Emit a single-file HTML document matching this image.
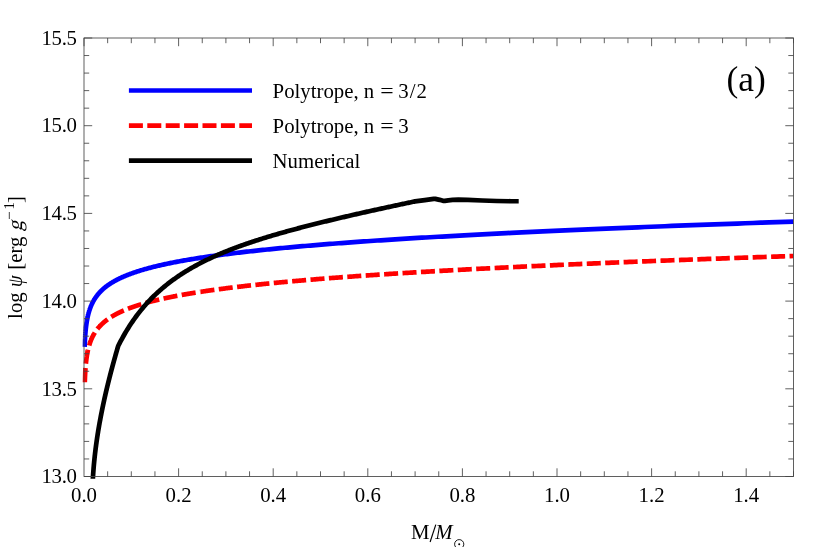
<!DOCTYPE html>
<html><head><meta charset="utf-8"><title>plot</title>
<style>
html,body{margin:0;padding:0;background:#fff;}
body{width:830px;height:547px;overflow:hidden;}
svg{display:block;will-change:transform;}
text{font-family:"Liberation Serif",serif;font-size:20.8px;fill:#000;}
</style></head>
<body>
<svg width="830" height="547" viewBox="0 0 830 547">
<rect width="830" height="547" fill="#fff"/>
<defs><clipPath id="c"><rect x="82.5" y="38.0" width="711.0" height="440.8"/></clipPath></defs>
<g clip-path="url(#c)" fill="none" stroke-width="4.7">
<path d="M84.79 382.13 L84.79 382.05 L84.79 381.97 L84.80 381.89 L84.80 381.81 L84.80 381.73 L84.80 381.65 L84.81 381.57 L84.81 381.49 L84.81 381.41 L84.82 381.34 L84.82 381.26 L84.82 381.18 L84.82 381.10 L84.83 381.02 L84.83 380.94 L84.83 380.86 L84.83 380.78 L84.84 380.70 L84.84 380.62 L84.84 380.54 L84.85 380.46 L84.85 380.38 L84.85 380.30 L84.85 380.22 L84.86 380.14 L84.86 380.06 L84.86 379.98 L84.87 379.90 L84.87 379.82 L84.87 379.74 L84.88 379.67 L84.88 379.59 L84.88 379.51 L84.88 379.43 L84.89 379.35 L84.89 379.27 L84.89 379.19 L84.90 379.11 L84.90 379.03 L84.90 378.95 L84.91 378.87 L84.91 378.79 L84.91 378.71 L84.92 378.63 L84.92 378.55 L84.92 378.47 L84.93 378.39 L84.93 378.31 L84.93 378.23 L84.94 378.15 L84.94 378.07 L84.94 378.00 L84.95 377.92 L84.95 377.84 L84.95 377.76 L84.96 377.68 L84.96 377.60 L84.96 377.52 L84.97 377.44 L84.97 377.36 L84.97 377.28 L84.98 377.20 L84.98 377.12 L84.98 377.04 L84.99 376.96 L84.99 376.88 L84.99 376.80 L85.00 376.72 L85.00 376.64 L85.00 376.56 L85.01 376.48 L85.01 376.40 L85.02 376.33 L85.02 376.25 L85.02 376.17 L85.03 376.09 L85.03 376.01 L85.03 375.93 L85.04 375.85 L85.04 375.77 L85.04 375.69 L85.05 375.61 L85.05 375.53 L85.06 375.45 L85.06 375.37 L85.06 375.29 L85.07 375.21 L85.07 375.13 L85.08 375.05 L85.08 374.97 L85.08 374.89 L85.09 374.81 L85.09 374.73 L85.10 374.66 L85.10 374.58 L85.10 374.50 L85.11 374.42 L85.11 374.34 L85.12 374.26 L85.12 374.18 L85.12 374.10 L85.13 374.02 L85.13 373.94 L85.14 373.86 L85.14 373.78 L85.15 373.70 L85.15 373.62 L85.15 373.54 L85.16 373.46 L85.16 373.38 L85.17 373.30 L85.17 373.22 L85.18 373.14 L85.18 373.06 L85.19 372.98 L85.19 372.91 L85.19 372.83 L85.20 372.75 L85.20 372.67 L85.21 372.59 L85.21 372.51 L85.22 372.43 L85.22 372.35 L85.23 372.27 L85.23 372.19 L85.24 372.11 L85.24 372.03 L85.25 371.95 L85.25 371.87 L85.26 371.79 L85.26 371.71 L85.26 371.63 L85.27 371.55 L85.27 371.47 L85.28 371.39 L85.28 371.31 L85.29 371.24 L85.29 371.16 L85.30 371.08 L85.30 371.00 L85.31 370.92 L85.31 370.84 L85.32 370.76 L85.32 370.68 L85.33 370.60 L85.34 370.52 L85.34 370.44 L85.35 370.36 L85.35 370.28 L85.36 370.20 L85.36 370.12 L85.37 370.04 L85.37 369.96 L85.38 369.88 L85.38 369.80 L85.39 369.72 L85.39 369.64 L85.40 369.56 L85.41 369.49 L85.41 369.41 L85.42 369.33 L85.42 369.25 L85.43 369.17 L85.43 369.09 L85.44 369.01 L85.44 368.93 L85.45 368.85 L85.46 368.77 L85.46 368.69 L85.47 368.61 L85.47 368.53 L85.48 368.45 L85.49 368.37 L85.49 368.29 L85.50 368.21 L85.50 368.13 L85.51 368.05 L85.52 367.97 L85.52 367.89 L85.53 367.81 L85.53 367.74 L85.54 367.66 L85.55 367.58 L85.55 367.50 L85.56 367.42 L85.56 367.34 L85.57 367.26 L85.58 367.18 L85.58 367.10 L85.59 367.02 L85.60 366.94 L85.60 366.86 L85.61 366.78 L85.62 366.70 L85.62 366.62 L85.63 366.54 L85.64 366.46 L85.64 366.38 L85.65 366.30 L85.66 366.22 L85.66 366.14 L85.67 366.06 L85.68 365.98 L85.68 365.91 L85.69 365.83 L85.70 365.75 L85.70 365.67 L85.71 365.59 L85.72 365.51 L85.72 365.43 L85.73 365.35 L85.74 365.27 L85.75 365.19 L85.75 365.11 L85.76 365.03 L85.77 364.95 L85.78 364.87 L85.78 364.79 L85.79 364.71 L85.80 364.63 L85.80 364.55 L85.81 364.47 L85.82 364.39 L85.83 364.31 L85.83 364.23 L85.84 364.15 L85.85 364.08 L85.86 364.00 L85.87 363.92 L85.87 363.84 L85.88 363.76 L85.89 363.68 L85.90 363.60 L85.90 363.52 L85.91 363.44 L85.92 363.36 L85.93 363.28 L85.94 363.20 L85.94 363.12 L85.95 363.04 L85.96 362.96 L85.97 362.88 L85.98 362.80 L85.99 362.72 L85.99 362.64 L86.00 362.56 L86.01 362.48 L86.02 362.40 L86.03 362.32 L86.04 362.25 L86.04 362.17 L86.05 362.09 L86.06 362.01 L86.07 361.93 L86.08 361.85 L86.09 361.77 L86.10 361.69 L86.11 361.61 L86.12 361.53 L86.12 361.45 L86.13 361.37 L86.14 361.29 L86.15 361.21 L86.16 361.13 L86.17 361.05 L86.18 360.97 L86.19 360.89 L86.20 360.81 L86.21 360.73 L86.22 360.65 L86.23 360.57 L86.23 360.49 L86.24 360.41 L86.25 360.34 L86.26 360.26 L86.27 360.18 L86.28 360.10 L86.29 360.02 L86.30 359.94 L86.31 359.86 L86.32 359.78 L86.33 359.70 L86.34 359.62 L86.35 359.54 L86.36 359.46 L86.37 359.38 L86.38 359.30 L86.39 359.22 L86.40 359.14 L86.41 359.06 L86.42 358.98 L86.43 358.90 L86.45 358.82 L86.46 358.74 L86.47 358.66 L86.48 358.58 L86.49 358.50 L86.50 358.42 L86.51 358.35 L86.52 358.27 L86.53 358.19 L86.54 358.11 L86.55 358.03 L86.56 357.95 L86.58 357.87 L86.59 357.79 L86.60 357.71 L86.61 357.63 L86.62 357.55 L86.63 357.47 L86.64 357.39 L86.65 357.31 L86.67 357.23 L86.68 357.15 L86.69 357.07 L86.70 356.99 L86.71 356.91 L86.72 356.83 L86.74 356.75 L86.75 356.67 L86.76 356.59 L86.77 356.51 L86.78 356.43 L86.80 356.36 L86.81 356.28 L86.82 356.20 L86.83 356.12 L86.85 356.04 L86.86 355.96 L86.87 355.88 L86.88 355.80 L86.90 355.72 L86.91 355.64 L86.92 355.56 L86.93 355.48 L86.95 355.40 L86.96 355.32 L86.97 355.24 L86.99 355.16 L87.00 355.08 L87.01 355.00 L87.03 354.92 L87.04 354.84 L87.05 354.76 L87.07 354.68 L87.08 354.60 L87.09 354.52 L87.11 354.44 L87.12 354.36 L87.13 354.28 L87.15 354.21 L87.16 354.13 L87.18 354.05 L87.19 353.97 L87.20 353.89 L87.22 353.81 L87.23 353.73 L87.25 353.65 L87.26 353.57 L87.28 353.49 L87.29 353.41 L87.31 353.33 L87.32 353.25 L87.33 353.17 L87.35 353.09 L87.36 353.01 L87.38 352.93 L87.39 352.85 L87.41 352.77 L87.42 352.69 L87.44 352.61 L87.46 352.53 L87.47 352.45 L87.49 352.37 L87.50 352.29 L87.52 352.21 L87.53 352.13 L87.55 352.06 L87.56 351.98 L87.58 351.90 L87.60 351.82 L87.61 351.74 L87.63 351.66 L87.64 351.58 L87.66 351.50 L87.68 351.42 L87.69 351.34 L87.71 351.26 L87.73 351.18 L87.74 351.10 L87.76 351.02 L87.78 350.94 L87.79 350.86 L87.81 350.78 L87.83 350.70 L87.85 350.62 L87.86 350.54 L87.88 350.46 L87.90 350.38 L87.92 350.30 L87.93 350.22 L87.95 350.14 L87.97 350.06 L87.99 349.98 L88.00 349.90 L88.02 349.82 L88.04 349.74 L88.06 349.67 L88.08 349.59 L88.10 349.51 L88.11 349.43 L88.13 349.35 L88.15 349.27 L88.17 349.19 L88.19 349.11 L88.21 349.03 L88.23 348.95 L88.25 348.87 L88.26 348.79 L88.28 348.71 L88.30 348.63 L88.32 348.55 L88.34 348.47 L88.36 348.39 L88.38 348.31 L88.40 348.23 L88.42 348.15 L88.44 348.07 L88.46 347.99 L88.48 347.91 L88.50 347.83 L88.52 347.75 L88.54 347.67 L88.56 347.59 L88.58 347.51 L88.61 347.43 L88.63 347.35 L88.65 347.27 L88.67 347.20 L88.69 347.12 L88.71 347.04 L88.73 346.96 L88.75 346.88 L88.78 346.80 L88.80 346.72 L88.82 346.64 L88.84 346.56 L88.86 346.48 L88.89 346.40 L88.91 346.32 L88.93 346.24 L88.95 346.16 L88.97 346.08 L89.00 346.00 L89.02 345.92 L89.04 345.84 L89.07 345.76 L89.09 345.68 L89.11 345.60 L89.14 345.52 L89.16 345.44 L89.18 345.36 L89.21 345.28 L89.23 345.20 L89.25 345.12 L89.28 345.04 L89.30 344.96 L89.33 344.88 L89.35 344.80 L89.38 344.72 L89.40 344.64 L89.43 344.56 L89.45 344.48 L89.48 344.40 L89.50 344.33 L89.53 344.25 L89.55 344.17 L89.58 344.09 L89.60 344.01 L89.63 343.93 L89.65 343.85 L89.68 343.77 L89.71 343.69 L89.73 343.61 L89.76 343.53 L89.78 343.45 L89.81 343.37 L89.84 343.29 L89.86 343.21 L89.89 343.13 L89.92 343.05 L89.95 342.97 L89.97 342.89 L90.00 342.81 L90.03 342.73 L90.06 342.65 L90.08 342.57 L90.11 342.49 L90.14 342.41 L90.17 342.33 L90.20 342.25 L90.23 342.17 L90.25 342.09 L90.28 342.01 L90.31 341.93 L90.34 341.85 L90.37 341.77 L90.40 341.69 L90.43 341.61 L90.46 341.53 L90.49 341.45 L90.52 341.37 L90.55 341.29 L90.58 341.21 L90.61 341.13 L90.64 341.05 L90.67 340.97 L90.70 340.90 L90.73 340.82 L90.76 340.74 L90.79 340.66 L90.83 340.58 L90.86 340.50 L90.89 340.42 L90.92 340.34 L90.95 340.26 L90.99 340.18 L91.02 340.10 L91.05 340.02 L91.08 339.94 L91.12 339.86 L91.15 339.78 L91.18 339.70 L91.22 339.62 L91.25 339.54 L91.28 339.46 L91.32 339.38 L91.35 339.30 L91.38 339.22 L91.42 339.14 L91.45 339.06 L91.49 338.98 L91.52 338.90 L91.56 338.82 L91.59 338.74 L91.63 338.66 L91.66 338.58 L91.70 338.50 L91.73 338.42 L91.77 338.34 L91.81 338.26 L91.84 338.18 L91.88 338.10 L91.92 338.02 L91.95 337.94 L91.99 337.86 L92.03 337.78 L92.06 337.70 L92.10 337.62 L92.14 337.54 L92.18 337.46 L92.22 337.38 L92.25 337.30 L92.29 337.22 L92.33 337.14 L92.37 337.06 L92.41 336.98 L92.45 336.90 L92.49 336.82 L92.53 336.74 L92.57 336.66 L92.61 336.58 L92.65 336.50 L92.69 336.42 L92.73 336.34 L92.77 336.26 L92.81 336.18 L92.85 336.10 L92.89 336.02 L92.93 335.94 L92.97 335.86 L93.02 335.78 L93.06 335.70 L93.10 335.62 L93.14 335.54 L93.19 335.47 L93.23 335.39 L93.27 335.31 L93.32 335.23 L93.36 335.15 L93.40 335.07 L93.45 334.99 L93.49 334.91 L93.54 334.83 L93.58 334.75 L93.62 334.67 L93.67 334.59 L93.71 334.51 L93.76 334.43 L93.81 334.35 L93.85 334.27 L93.90 334.19 L93.94 334.11 L93.99 334.03 L94.04 333.95 L94.08 333.87 L94.13 333.79 L94.18 333.71 L94.23 333.63 L94.27 333.55 L94.32 333.47 L94.37 333.39 L94.42 333.31 L94.47 333.23 L94.52 333.15 L94.57 333.07 L94.62 332.99 L94.67 332.91 L94.72 332.83 L94.77 332.75 L94.82 332.67 L94.87 332.59 L94.92 332.51 L94.97 332.43 L95.02 332.35 L95.07 332.27 L95.13 332.19 L95.18 332.11 L95.23 332.03 L95.28 331.95 L95.34 331.87 L95.39 331.79 L95.44 331.71 L95.50 331.63 L95.55 331.55 L95.60 331.47 L95.66 331.39 L95.71 331.31 L95.77 331.23 L95.82 331.15 L95.88 331.07 L95.94 330.99 L95.99 330.91 L96.05 330.83 L96.11 330.75 L96.16 330.67 L96.22 330.59 L96.28 330.51 L96.33 330.43 L96.39 330.35 L96.45 330.27 L96.51 330.19 L96.57 330.11 L96.63 330.03 L96.69 329.95 L96.75 329.87 L96.81 329.79 L96.87 329.71 L96.93 329.63 L96.99 329.55 L97.05 329.46 L97.11 329.38 L97.17 329.30 L97.24 329.22 L97.30 329.14 L97.36 329.06 L97.42 328.98 L97.49 328.90 L97.55 328.82 L97.61 328.74 L97.68 328.66 L97.74 328.58 L97.81 328.50 L97.87 328.42 L97.94 328.34 L98.00 328.26 L98.07 328.18 L98.14 328.10 L98.20 328.02 L98.27 327.94 L98.34 327.86 L98.40 327.78 L98.47 327.70 L98.54 327.62 L98.61 327.54 L98.68 327.46 L98.75 327.38 L98.82 327.30 L98.89 327.22 L98.96 327.14 L99.03 327.06 L99.10 326.98 L99.17 326.90 L99.24 326.82 L99.31 326.74 L99.39 326.66 L99.46 326.58 L99.53 326.50 L99.61 326.42 L99.68 326.34 L99.75 326.26 L99.83 326.18 L99.90 326.10 L99.98 326.02 L100.05 325.94 L100.13 325.86 L100.21 325.78 L100.28 325.70 L100.36 325.62 L100.44 325.54 L100.51 325.46 L100.59 325.38 L100.67 325.30 L100.75 325.22 L100.83 325.14 L100.91 325.05 L100.99 324.97 L101.07 324.89 L101.15 324.81 L101.23 324.73 L101.31 324.65 L101.39 324.57 L101.48 324.49 L101.56 324.41 L101.64 324.33 L101.73 324.25 L101.81 324.17 L101.89 324.09 L101.98 324.01 L102.06 323.93 L102.15 323.85 L102.24 323.77 L102.32 323.69 L102.41 323.61 L102.50 323.53 L102.58 323.45 L102.67 323.37 L102.76 323.29 L102.85 323.21 L102.94 323.13 L103.03 323.05 L103.12 322.97 L103.21 322.89 L103.30 322.81 L103.39 322.73 L103.48 322.64 L103.58 322.56 L103.67 322.48 L103.76 322.40 L103.86 322.32 L103.95 322.24 L104.05 322.16 L104.14 322.08 L104.24 322.00 L104.33 321.92 L104.43 321.84 L104.53 321.76 L104.62 321.68 L104.72 321.60 L104.82 321.52 L104.92 321.44 L105.02 321.36 L105.12 321.28 L105.22 321.20 L105.32 321.12 L105.42 321.04 L105.52 320.96 L105.62 320.87 L105.73 320.79 L105.83 320.71 L105.93 320.63 L106.04 320.55 L106.14 320.47 L106.25 320.39 L106.35 320.31 L106.46 320.23 L106.56 320.15 L106.67 320.07 L106.78 319.99 L106.89 319.91 L107.00 319.83 L107.11 319.75 L107.22 319.67 L107.33 319.59 L107.44 319.51 L107.55 319.42 L107.66 319.34 L107.77 319.26 L107.88 319.18 L108.00 319.10 L108.11 319.02 L108.23 318.94 L108.34 318.86 L108.46 318.78 L108.57 318.70 L108.69 318.62 L108.81 318.54 L108.93 318.46 L109.04 318.38 L109.16 318.30 L109.28 318.22 L109.40 318.13 L109.52 318.05 L109.65 317.97 L109.77 317.89 L109.89 317.81 L110.01 317.73 L110.14 317.65 L110.26 317.57 L110.39 317.49 L110.51 317.41 L110.64 317.33 L110.77 317.25 L110.89 317.17 L111.02 317.09 L111.15 317.00 L111.28 316.92 L111.41 316.84 L111.54 316.76 L111.67 316.68 L111.80 316.60 L111.93 316.52 L112.07 316.44 L112.20 316.36 L112.33 316.28 L112.47 316.20 L112.60 316.12 L112.74 316.03 L112.88 315.95 L113.02 315.87 L113.15 315.79 L113.29 315.71 L113.43 315.63 L113.57 315.55 L113.71 315.47 L113.85 315.39 L114.00 315.31 L114.14 315.23 L114.28 315.15 L114.43 315.06 L114.57 314.98 L114.72 314.90 L114.86 314.82 L115.01 314.74 L115.16 314.66 L115.31 314.58 L115.46 314.50 L115.61 314.42 L115.76 314.34 L115.91 314.25 L116.06 314.17 L116.21 314.09 L116.37 314.01 L116.52 313.93 L116.68 313.85 L116.83 313.77 L116.99 313.69 L117.15 313.61 L117.30 313.53 L117.46 313.44 L117.62 313.36 L117.78 313.28 L117.94 313.20 L118.10 313.12 L118.27 313.04 L118.43 312.96 L118.59 312.88 L118.76 312.80 L118.93 312.71 L119.09 312.63 L119.26 312.55 L119.43 312.47 L119.60 312.39 L119.77 312.31 L119.94 312.23 L120.11 312.15 L120.28 312.07 L120.45 311.98 L120.63 311.90 L120.80 311.82 L120.98 311.74 L121.15 311.66 L121.33 311.58 L121.51 311.50 L121.69 311.42 L121.87 311.33 L122.05 311.25 L122.23 311.17 L122.41 311.09 L122.60 311.01 L122.78 310.93 L122.97 310.85 L123.15 310.77 L123.34 310.68 L123.53 310.60 L123.71 310.52 L123.90 310.44 L124.09 310.36 L124.29 310.28 L124.48 310.20 L124.67 310.11 L124.87 310.03 L125.06 309.95 L125.26 309.87 L125.45 309.79 L125.65 309.71 L125.85 309.63 L126.05 309.54 L126.25 309.46 L126.45 309.38 L126.65 309.30 L126.86 309.22 L127.06 309.14 L127.27 309.06 L127.48 308.97 L127.68 308.89 L127.89 308.81 L128.10 308.73 L128.31 308.65 L128.52 308.57 L128.74 308.48 L128.95 308.40 L129.16 308.32 L129.38 308.24 L129.60 308.16 L129.81 308.08 L130.03 307.99 L130.25 307.91 L130.47 307.83 L130.70 307.75 L130.92 307.67 L131.14 307.59 L131.37 307.50 L131.60 307.42 L131.82 307.34 L132.05 307.26 L132.28 307.18 L132.51 307.10 L132.74 307.01 L132.98 306.93 L133.21 306.85 L133.45 306.77 L133.68 306.69 L133.92 306.60 L134.16 306.52 L134.40 306.44 L134.64 306.36 L134.88 306.28 L135.12 306.20 L135.37 306.11 L135.61 306.03 L135.86 305.95 L136.11 305.87 L136.36 305.79 L136.61 305.70 L136.86 305.62 L137.11 305.54 L137.36 305.46 L137.62 305.38 L137.88 305.29 L138.13 305.21 L138.39 305.13 L138.65 305.05 L138.91 304.97 L139.18 304.88 L139.44 304.80 L139.71 304.72 L139.97 304.64 L140.24 304.56 L140.51 304.47 L140.78 304.39 L141.05 304.31 L141.32 304.23 L141.60 304.14 L141.87 304.06 L142.15 303.98 L142.43 303.90 L142.71 303.82 L142.99 303.73 L143.27 303.65 L143.55 303.57 L143.84 303.49 L144.12 303.40 L144.41 303.32 L144.70 303.24 L144.99 303.16 L145.28 303.07 L145.58 302.99 L145.87 302.91 L146.17 302.83 L146.46 302.74 L146.76 302.66 L147.06 302.58 L147.36 302.50 L147.67 302.42 L147.97 302.33 L148.28 302.25 L148.59 302.17 L148.89 302.09 L149.20 302.00 L149.52 301.92 L149.83 301.84 L150.15 301.75 L150.46 301.67 L150.78 301.59 L151.10 301.51 L151.42 301.42 L151.74 301.34 L152.07 301.26 L152.39 301.18 L152.72 301.09 L153.05 301.01 L153.38 300.93 L153.71 300.85 L154.04 300.76 L154.38 300.68 L154.72 300.60 L155.06 300.51 L155.40 300.43 L155.74 300.35 L156.08 300.27 L156.43 300.18 L156.77 300.10 L157.12 300.02 L157.47 299.93 L157.82 299.85 L158.18 299.77 L158.53 299.68 L158.89 299.60 L159.25 299.52 L159.61 299.44 L159.97 299.35 L160.33 299.27 L160.70 299.19 L161.06 299.10 L161.43 299.02 L161.80 298.94 L162.18 298.85 L162.55 298.77 L162.93 298.69 L163.30 298.60 L163.68 298.52 L164.07 298.44 L164.45 298.35 L164.83 298.27 L165.22 298.19 L165.61 298.10 L166.00 298.02 L166.39 297.94 L166.79 297.85 L167.18 297.77 L167.58 297.69 L167.98 297.60 L168.38 297.52 L168.79 297.44 L169.20 297.35 L169.60 297.27 L170.01 297.19 L170.42 297.10 L170.84 297.02 L171.25 296.94 L171.67 296.85 L172.09 296.77 L172.51 296.69 L172.94 296.60 L173.36 296.52 L173.79 296.43 L174.22 296.35 L174.65 296.27 L175.09 296.18 L175.52 296.10 L175.96 296.02 L176.40 295.93 L176.85 295.85 L177.29 295.76 L177.74 295.68 L178.19 295.60 L178.64 295.51 L179.09 295.43 L179.55 295.34 L180.00 295.26 L180.46 295.18 L180.93 295.09 L181.39 295.01 L181.86 294.92 L182.33 294.84 L182.80 294.76 L183.27 294.67 L183.75 294.59 L184.22 294.50 L184.70 294.42 L185.19 294.33 L185.67 294.25 L186.16 294.17 L186.65 294.08 L187.14 294.00 L187.63 293.91 L188.13 293.83 L188.63 293.74 L189.13 293.66 L189.63 293.57 L190.14 293.49 L190.65 293.41 L191.16 293.32 L191.67 293.24 L192.19 293.15 L192.71 293.07 L193.23 292.98 L193.75 292.90 L194.28 292.81 L194.81 292.73 L195.34 292.64 L195.87 292.56 L196.41 292.47 L196.95 292.39 L197.49 292.31 L198.03 292.22 L198.58 292.14 L199.13 292.05 L199.68 291.97 L200.23 291.88" stroke="#ff0000" stroke-dasharray="14.105 4.433"/>
<path d="M200.23 291.88 L200.79 291.80 L201.35 291.71 L201.91 291.63 L202.48 291.54 L203.04 291.46 L203.62 291.37 L204.19 291.29 L204.76 291.20 L205.34 291.11 L205.93 291.03 L206.51 290.94 L207.10 290.86 L207.69 290.77 L208.28 290.69 L208.88 290.60 L209.47 290.52 L210.08 290.43 L210.68 290.35 L211.29 290.26 L211.90 290.18 L212.51 290.09 L213.13 290.00 L213.74 289.92 L214.37 289.83 L214.99 289.75 L215.62 289.66 L216.25 289.58 L216.88 289.49 L217.52 289.40 L218.16 289.32 L218.80 289.23 L219.45 289.15 L220.10 289.06 L220.75 288.98 L221.41 288.89 L222.07 288.80 L222.73 288.72 L223.39 288.63 L224.06 288.55 L224.73 288.46 L225.41 288.37 L226.09 288.29 L226.77 288.20 L227.45 288.11 L228.14 288.03 L228.83 287.94 L229.53 287.86 L230.22 287.77 L230.92 287.68 L231.63 287.60 L232.34 287.51 L233.05 287.42 L233.76 287.34 L234.48 287.25 L235.20 287.16 L235.93 287.08 L236.66 286.99 L237.39 286.90 L238.12 286.82 L238.86 286.73 L239.60 286.64 L240.35 286.56 L241.10 286.47 L241.85 286.38 L242.61 286.30 L243.37 286.21 L244.14 286.12 L244.90 286.03 L245.68 285.95 L246.45 285.86 L247.23 285.77 L248.01 285.69 L248.80 285.60 L249.59 285.51 L250.38 285.42 L251.18 285.34 L251.98 285.25 L252.79 285.16 L253.60 285.07 L254.41 284.99 L255.23 284.90 L256.05 284.81 L256.87 284.72 L257.70 284.64 L258.54 284.55 L259.37 284.46 L260.22 284.37 L261.06 284.29 L261.91 284.20 L262.76 284.11 L263.62 284.02 L264.48 283.93 L265.35 283.85 L266.22 283.76 L267.09 283.67 L267.97 283.58 L268.85 283.49 L269.74 283.40 L270.63 283.32 L271.52 283.23 L272.42 283.14 L273.33 283.05 L274.24 282.96 L275.15 282.87 L276.06 282.79 L276.99 282.70 L277.91 282.61 L278.84 282.52 L279.78 282.43 L280.72 282.34 L281.66 282.25 L282.61 282.16 L283.56 282.08 L284.52 281.99 L285.48 281.90 L286.45 281.81 L287.42 281.72 L288.39 281.63 L289.37 281.54 L290.36 281.45 L291.35 281.36 L292.34 281.27 L293.34 281.18 L294.35 281.10 L295.36 281.01 L296.37 280.92 L297.39 280.83 L298.41 280.74 L299.44 280.65 L300.47 280.56 L301.51 280.47 L302.56 280.38 L303.60 280.29 L304.66 280.20 L305.72 280.11 L306.78 280.02 L307.85 279.93 L308.92 279.84 L310.00 279.75 L311.09 279.66 L312.18 279.57 L313.27 279.48 L314.37 279.39 L315.47 279.30 L316.59 279.21 L317.70 279.12 L318.82 279.03 L319.95 278.93 L321.08 278.84 L322.22 278.75 L323.36 278.66 L324.51 278.57 L325.66 278.48 L326.82 278.39 L327.99 278.30 L329.16 278.21 L330.34 278.12 L331.52 278.03 L332.70 277.93 L333.90 277.84 L335.10 277.75 L336.30 277.66 L337.51 277.57 L338.73 277.48 L339.95 277.39 L341.18 277.29 L342.41 277.20 L343.65 277.11 L344.90 277.02 L346.15 276.93 L347.41 276.84 L348.67 276.74 L349.94 276.65 L351.22 276.56 L352.50 276.47 L353.79 276.38 L355.08 276.28 L356.38 276.19 L357.69 276.10 L359.00 276.01 L360.32 275.91 L361.65 275.82 L362.98 275.73 L364.32 275.64 L365.67 275.54 L367.02 275.45 L368.38 275.36 L369.74 275.26 L371.11 275.17 L372.49 275.08 L373.87 274.98 L375.26 274.89 L376.66 274.80 L378.07 274.70 L379.48 274.61 L380.90 274.52 L382.32 274.42 L383.75 274.33 L385.19 274.24 L386.64 274.14 L388.09 274.05 L389.55 273.96 L391.01 273.86 L392.49 273.77 L393.97 273.67 L395.46 273.58 L396.95 273.49 L398.45 273.39 L399.96 273.30 L401.48 273.20 L403.00 273.11 L404.53 273.01 L406.07 272.92 L407.62 272.82 L409.17 272.73 L410.73 272.63 L412.30 272.54 L413.87 272.44 L415.46 272.35 L417.05 272.25 L418.64 272.16 L420.25 272.06 L421.86 271.97 L423.49 271.87 L425.12 271.78 L426.75 271.68 L428.40 271.59 L430.05 271.49 L431.71 271.39 L433.38 271.30 L435.06 271.20 L436.74 271.11 L438.43 271.01 L440.14 270.91 L441.85 270.82 L443.56 270.72 L445.29 270.62 L447.02 270.53 L448.76 270.43 L450.52 270.33 L452.27 270.24 L454.04 270.14 L455.82 270.04 L457.60 269.95 L459.40 269.85 L461.20 269.75 L463.01 269.65 L464.83 269.56 L466.65 269.46 L468.49 269.36 L470.34 269.26 L472.19 269.17 L474.05 269.07 L475.93 268.97 L477.81 268.87 L479.70 268.77 L481.60 268.68 L483.51 268.58 L485.42 268.48 L487.35 268.38 L489.29 268.28 L491.23 268.18 L493.19 268.08 L495.15 267.99 L497.12 267.89 L499.11 267.79 L501.10 267.69 L503.10 267.59 L505.11 267.49 L507.13 267.39 L509.16 267.29 L511.21 267.19 L513.26 267.09 L515.32 266.99 L517.39 266.89 L519.47 266.79 L521.56 266.69 L523.66 266.59 L525.77 266.49 L527.89 266.39 L530.02 266.29 L532.16 266.19 L534.31 266.09 L536.47 265.99 L538.65 265.89 L540.83 265.79 L543.02 265.68 L545.22 265.58 L547.44 265.48 L549.66 265.38 L551.90 265.28 L554.14 265.18 L556.40 265.08 L558.67 264.97 L560.95 264.87 L563.24 264.77 L565.54 264.67 L567.85 264.57 L570.17 264.46 L572.50 264.36 L574.85 264.26 L577.21 264.16 L579.57 264.05 L581.95 263.95 L584.34 263.85 L586.74 263.74 L589.16 263.64 L591.58 263.54 L594.02 263.43 L596.47 263.33 L598.93 263.23 L601.40 263.12 L603.88 263.02 L606.38 262.91 L608.89 262.81 L611.41 262.71 L613.94 262.60 L616.48 262.50 L619.04 262.39 L621.61 262.29 L624.19 262.18 L626.78 262.08 L629.39 261.97 L632.01 261.87 L634.64 261.76 L637.28 261.65 L639.94 261.55 L642.60 261.44 L645.29 261.34 L647.98 261.23 L650.69 261.13 L653.41 261.02 L656.14 260.91 L658.89 260.81 L661.65 260.70 L664.42 260.59 L667.21 260.49 L670.01 260.38 L672.82 260.27 L675.65 260.16 L678.49 260.06 L681.34 259.95 L684.21 259.84 L687.09 259.73 L689.99 259.62 L692.90 259.52 L695.82 259.41 L698.76 259.30 L701.71 259.19 L704.67 259.08 L707.65 258.97 L710.65 258.86 L713.66 258.76 L716.68 258.65 L719.72 258.54 L722.77 258.43 L725.84 258.32 L728.92 258.21 L732.01 258.10 L735.12 257.99 L738.25 257.88 L741.39 257.77 L744.55 257.66 L747.72 257.54 L750.91 257.43 L754.11 257.32 L757.32 257.21 L760.56 257.10 L763.81 256.99 L767.07 256.88 L770.35 256.77 L773.64 256.65 L776.95 256.54 L780.28 256.43 L783.62 256.32 L786.98 256.20 L790.36 256.09 L793.75 255.98" stroke="#ff0000" stroke-dasharray="14.037 4.411" stroke-dashoffset="18.159"/>
<path d="M84.61 346.95 L84.62 346.75 L84.63 346.56 L84.63 346.36 L84.64 346.16 L84.65 345.96 L84.66 345.77 L84.66 345.57 L84.67 345.37 L84.68 345.17 L84.69 344.98 L84.70 344.78 L84.70 344.58 L84.71 344.38 L84.72 344.19 L84.73 343.99 L84.74 343.79 L84.75 343.59 L84.76 343.39 L84.77 343.20 L84.77 343.00 L84.78 342.80 L84.79 342.60 L84.80 342.41 L84.81 342.21 L84.82 342.01 L84.83 341.81 L84.84 341.62 L84.85 341.42 L84.86 341.22 L84.87 341.02 L84.88 340.83 L84.89 340.63 L84.90 340.43 L84.91 340.23 L84.92 340.03 L84.94 339.84 L84.95 339.64 L84.96 339.44 L84.97 339.24 L84.98 339.05 L84.99 338.85 L85.00 338.65 L85.02 338.45 L85.03 338.26 L85.04 338.06 L85.05 337.86 L85.06 337.66 L85.08 337.46 L85.09 337.27 L85.10 337.07 L85.12 336.87 L85.13 336.67 L85.14 336.48 L85.16 336.28 L85.17 336.08 L85.18 335.88 L85.20 335.69 L85.21 335.49 L85.23 335.29 L85.24 335.09 L85.26 334.89 L85.27 334.70 L85.29 334.50 L85.30 334.30 L85.32 334.10 L85.33 333.91 L85.35 333.71 L85.36 333.51 L85.38 333.31 L85.40 333.11 L85.41 332.92 L85.43 332.72 L85.45 332.52 L85.46 332.32 L85.48 332.13 L85.50 331.93 L85.52 331.73 L85.53 331.53 L85.55 331.33 L85.57 331.14 L85.59 330.94 L85.61 330.74 L85.63 330.54 L85.65 330.35 L85.67 330.15 L85.69 329.95 L85.71 329.75 L85.73 329.56 L85.75 329.36 L85.77 329.16 L85.79 328.96 L85.81 328.76 L85.83 328.57 L85.85 328.37 L85.87 328.17 L85.90 327.97 L85.92 327.77 L85.94 327.58 L85.96 327.38 L85.99 327.18 L86.01 326.98 L86.04 326.79 L86.06 326.59 L86.08 326.39 L86.11 326.19 L86.13 325.99 L86.16 325.80 L86.18 325.60 L86.21 325.40 L86.24 325.20 L86.26 325.01 L86.29 324.81 L86.32 324.61 L86.34 324.41 L86.37 324.21 L86.40 324.02 L86.43 323.82 L86.46 323.62 L86.49 323.42 L86.52 323.22 L86.55 323.03 L86.58 322.83 L86.61 322.63 L86.64 322.43 L86.67 322.24 L86.70 322.04 L86.73 321.84 L86.76 321.64 L86.80 321.44 L86.83 321.25 L86.86 321.05 L86.90 320.85 L86.93 320.65 L86.97 320.45 L87.00 320.26 L87.04 320.06 L87.07 319.86 L87.11 319.66 L87.15 319.46 L87.18 319.27 L87.22 319.07 L87.26 318.87 L87.30 318.67 L87.34 318.47 L87.38 318.28 L87.42 318.08 L87.46 317.88 L87.50 317.68 L87.54 317.49 L87.58 317.29 L87.62 317.09 L87.67 316.89 L87.71 316.69 L87.75 316.50 L87.80 316.30 L87.84 316.10 L87.89 315.90 L87.94 315.70 L87.98 315.50 L88.03 315.31 L88.08 315.11 L88.13 314.91 L88.17 314.71 L88.22 314.51 L88.27 314.32 L88.32 314.12 L88.38 313.92 L88.43 313.72 L88.48 313.52 L88.53 313.33 L88.59 313.13 L88.64 312.93 L88.70 312.73 L88.75 312.53 L88.81 312.34 L88.87 312.14 L88.92 311.94 L88.98 311.74 L89.04 311.54 L89.10 311.34 L89.16 311.15 L89.22 310.95 L89.28 310.75 L89.35 310.55 L89.41 310.35 L89.47 310.16 L89.54 309.96 L89.60 309.76 L89.67 309.56 L89.74 309.36 L89.81 309.16 L89.87 308.97 L89.94 308.77 L90.01 308.57 L90.09 308.37 L90.16 308.17 L90.23 307.97 L90.30 307.78 L90.38 307.58 L90.45 307.38 L90.53 307.18 L90.61 306.98 L90.69 306.78 L90.77 306.59 L90.85 306.39 L90.93 306.19 L91.01 305.99 L91.09 305.79 L91.18 305.59 L91.26 305.40 L91.35 305.20 L91.43 305.00 L91.52 304.80 L91.61 304.60 L91.70 304.40 L91.79 304.21 L91.89 304.01 L91.98 303.81 L92.07 303.61 L92.17 303.41 L92.27 303.21 L92.36 303.01 L92.46 302.82 L92.56 302.62 L92.67 302.42 L92.77 302.22 L92.87 302.02 L92.98 301.82 L93.08 301.62 L93.19 301.43 L93.30 301.23 L93.41 301.03 L93.52 300.83 L93.63 300.63 L93.75 300.43 L93.86 300.23 L93.98 300.03 L94.10 299.84 L94.22 299.64 L94.34 299.44 L94.46 299.24 L94.59 299.04 L94.71 298.84 L94.84 298.64 L94.97 298.44 L95.10 298.25 L95.23 298.05 L95.36 297.85 L95.50 297.65 L95.63 297.45 L95.77 297.25 L95.91 297.05 L96.05 296.85 L96.19 296.65 L96.34 296.46 L96.48 296.26 L96.63 296.06 L96.78 295.86 L96.93 295.66 L97.09 295.46 L97.24 295.26 L97.40 295.06 L97.56 294.86 L97.72 294.66 L97.88 294.46 L98.04 294.27 L98.21 294.07 L98.38 293.87 L98.55 293.67 L98.72 293.47 L98.90 293.27 L99.07 293.07 L99.25 292.87 L99.43 292.67 L99.62 292.47 L99.80 292.27 L99.99 292.07 L100.18 291.87 L100.37 291.67 L100.56 291.47 L100.76 291.27 L100.96 291.08 L101.16 290.88 L101.36 290.68 L101.57 290.48 L101.78 290.28 L101.99 290.08 L102.20 289.88 L102.41 289.68 L102.63 289.48 L102.85 289.28 L103.08 289.08 L103.30 288.88 L103.53 288.68 L103.76 288.48 L104.00 288.28 L104.23 288.08 L104.47 287.88 L104.72 287.68 L104.96 287.48 L105.21 287.28 L105.46 287.08 L105.72 286.88 L105.97 286.68 L106.23 286.48 L106.50 286.28 L106.76 286.08 L107.03 285.88 L107.31 285.68 L107.58 285.48 L107.86 285.28 L108.14 285.08 L108.43 284.88 L108.72 284.68 L109.01 284.48 L109.31 284.28 L109.61 284.07 L109.91 283.87 L110.22 283.67 L110.53 283.47 L110.84 283.27 L111.16 283.07 L111.48 282.87 L111.81 282.67 L112.14 282.47 L112.47 282.27 L112.81 282.07 L113.15 281.87 L113.50 281.67 L113.85 281.46 L114.20 281.26 L114.56 281.06 L114.92 280.86 L115.29 280.66 L115.66 280.46 L116.03 280.26 L116.41 280.06 L116.80 279.85 L117.18 279.65 L117.58 279.45 L117.98 279.25 L118.38 279.05 L118.79 278.85 L119.20 278.65 L119.61 278.44 L120.04 278.24 L120.46 278.04 L120.90 277.84 L121.33 277.64 L121.77 277.43 L122.22 277.23 L122.68 277.03 L123.13 276.83 L123.60 276.63 L124.07 276.42 L124.54 276.22 L125.02 276.02 L125.51 275.82 L126.00 275.61 L126.50 275.41 L127.00 275.21 L127.51 275.01 L128.03 274.80 L128.55 274.60 L129.08 274.40 L129.61 274.20 L130.15 273.99 L130.70 273.79 L131.25 273.59 L131.81 273.38 L132.38 273.18 L132.95 272.98 L133.53 272.77 L134.12 272.57 L134.71 272.37 L135.31 272.16 L135.92 271.96 L136.53 271.76 L137.16 271.55 L137.79 271.35 L138.42 271.14 L139.07 270.94 L139.72 270.74 L140.38 270.53 L141.05 270.33 L141.72 270.12 L142.41 269.92 L143.10 269.72 L143.80 269.51 L144.51 269.31 L145.23 269.10 L145.95 268.90 L146.69 268.69 L147.43 268.49 L148.18 268.28 L148.94 268.08 L149.71 267.87 L150.49 267.67 L151.28 267.46 L152.07 267.26 L152.88 267.05 L153.70 266.84 L154.52 266.64 L155.36 266.43 L156.20 266.23 L157.06 266.02 L157.92 265.82 L158.80 265.61 L159.69 265.40 L160.58 265.20 L161.49 264.99 L162.41 264.78 L163.34 264.58 L164.28 264.37 L165.23 264.16 L166.19 263.96 L167.16 263.75 L168.15 263.54 L169.15 263.33 L170.16 263.13 L171.18 262.92 L172.21 262.71 L173.25 262.50 L174.31 262.29 L175.38 262.09 L176.47 261.88 L177.56 261.67 L178.67 261.46 L179.79 261.25 L180.93 261.04 L182.07 260.83 L183.24 260.63 L184.41 260.42 L185.60 260.21 L186.81 260.00 L188.02 259.79 L189.26 259.58 L190.50 259.37 L191.77 259.16 L193.04 258.95 L194.33 258.74 L195.64 258.53 L196.96 258.32 L198.30 258.11 L199.66 257.90 L201.03 257.68 L202.41 257.47 L203.82 257.26 L205.24 257.05 L206.67 256.84 L208.13 256.63 L209.60 256.41 L211.09 256.20 L212.59 255.99 L214.11 255.78 L215.66 255.56 L217.22 255.35 L218.79 255.14 L220.39 254.92 L222.01 254.71 L223.64 254.50 L225.30 254.28 L226.97 254.07 L228.67 253.85 L230.38 253.64 L232.11 253.43 L233.87 253.21 L235.64 253.00 L237.44 252.78 L239.26 252.56 L241.10 252.35 L242.96 252.13 L244.84 251.92 L246.75 251.70 L248.68 251.48 L250.63 251.27 L252.60 251.05 L254.60 250.83 L256.62 250.61 L258.67 250.40 L260.74 250.18 L262.83 249.96 L264.95 249.74 L267.09 249.52 L269.26 249.30 L271.46 249.08 L273.68 248.87 L275.93 248.65 L278.20 248.43 L280.50 248.21 L282.83 247.98 L285.19 247.76 L287.57 247.54 L289.98 247.32 L292.42 247.10 L294.89 246.88 L297.39 246.66 L299.92 246.43 L302.48 246.21 L305.07 245.99 L307.69 245.76 L310.34 245.54 L313.02 245.32 L315.73 245.09 L318.48 244.87 L321.25 244.64 L324.07 244.42 L326.91 244.19 L329.79 243.96 L332.70 243.74 L335.65 243.51 L338.63 243.28 L341.65 243.06 L344.70 242.83 L347.79 242.60 L350.91 242.37 L354.08 242.14 L357.28 241.91 L360.51 241.68 L363.79 241.45 L367.10 241.22 L370.46 240.99 L373.85 240.76 L377.29 240.53 L380.76 240.30 L384.28 240.07 L387.84 239.83 L391.44 239.60 L395.08 239.37 L398.76 239.13 L402.49 238.90 L406.27 238.66 L410.09 238.43 L413.95 238.19 L417.86 237.96 L421.81 237.72 L425.82 237.48 L429.87 237.25 L433.97 237.01 L438.11 236.77 L442.31 236.53 L446.55 236.29 L450.85 236.05 L455.20 235.81 L459.59 235.57 L464.04 235.33 L468.55 235.09 L473.10 234.84 L477.71 234.60 L482.38 234.36 L487.10 234.11 L491.87 233.87 L496.71 233.62 L501.60 233.38 L506.54 233.13 L511.55 232.88 L516.62 232.63 L521.74 232.39 L526.93 232.14 L532.18 231.89 L537.49 231.64 L542.86 231.39 L548.30 231.14 L553.80 230.88 L559.36 230.63 L565.00 230.38 L570.70 230.12 L576.46 229.87 L582.30 229.61 L588.20 229.36 L594.18 229.10 L600.22 228.84 L606.34 228.59 L612.53 228.33 L618.79 228.07 L625.12 227.81 L631.54 227.55 L638.02 227.29 L644.59 227.02 L651.23 226.76 L657.95 226.50 L664.75 226.23 L671.63 225.97 L678.59 225.70 L685.64 225.43 L692.77 225.16 L699.98 224.89 L707.28 224.63 L714.66 224.35 L722.14 224.08 L729.70 223.81 L737.35 223.54 L745.09 223.26 L752.92 222.99 L760.85 222.71 L768.87 222.44 L776.98 222.16 L785.19 221.88 L793.50 221.60" stroke="#0000ff" stroke-linejoin="round"/>
<path d="M92.70 482.00 L92.77 480.62 L92.84 479.24 L92.92 477.86 L93.00 476.48 L93.09 475.11 L93.18 473.73 L93.28 472.35 L93.38 470.97 L93.49 469.59 L93.60 468.21 L93.71 466.83 L93.83 465.45 L93.96 464.08 L94.09 462.70 L94.22 461.32 L94.36 459.94 L94.50 458.56 L94.64 457.18 L94.79 455.80 L94.95 454.42 L95.11 453.05 L95.27 451.67 L95.44 450.29 L95.61 448.91 L95.79 447.53 L95.97 446.15 L96.15 444.77 L96.34 443.39 L96.53 442.02 L96.73 440.64 L96.93 439.26 L97.13 437.88 L97.34 436.50 L97.55 435.12 L97.77 433.74 L97.99 432.36 L98.21 430.98 L98.44 429.61 L98.67 428.23 L98.91 426.85 L99.15 425.47 L99.39 424.09 L99.63 422.71 L99.88 421.33 L100.14 419.95 L100.39 418.58 L100.65 417.20 L100.92 415.82 L101.18 414.44 L101.46 413.06 L101.73 411.68 L102.01 410.30 L102.29 408.92 L102.57 407.55 L102.86 406.17 L103.15 404.79 L103.44 403.41 L103.74 402.03 L104.04 400.65 L104.34 399.27 L104.65 397.89 L104.96 396.52 L105.27 395.14 L105.59 393.76 L105.91 392.38 L106.23 391.00 L106.55 389.62 L106.88 388.24 L107.21 386.86 L107.55 385.48 L107.88 384.11 L108.22 382.73 L108.56 381.35 L108.91 379.97 L109.25 378.59 L109.60 377.21 L109.96 375.83 L110.31 374.45 L110.67 373.08 L111.03 371.70 L111.39 370.32 L111.76 368.94 L112.13 367.56 L112.50 366.18 L112.87 364.80 L113.24 363.42 L113.62 362.05 L114.00 360.67 L114.38 359.29 L114.77 357.91 L115.16 356.53 L115.54 355.15 L115.94 353.77 L116.33 352.39 L116.72 351.02 L117.12 349.64 L117.52 348.26 L117.92 346.88 L118.40 345.50 L119.39 343.57 L120.38 341.67 L121.38 339.82 L122.37 338.01 L123.36 336.24 L124.35 334.50 L125.34 332.80 L126.34 331.14 L127.33 329.51 L128.32 327.91 L129.31 326.35 L130.30 324.82 L131.30 323.32 L132.29 321.85 L133.28 320.41 L134.27 319.00 L135.26 317.62 L136.26 316.26 L137.25 314.93 L138.24 313.63 L139.23 312.35 L140.22 311.09 L141.22 309.86 L142.21 308.66 L143.20 307.47 L144.19 306.31 L145.18 305.17 L146.18 304.05 L147.17 302.96 L148.16 301.88 L149.15 300.82 L150.14 299.78 L151.14 298.75 L152.13 297.75 L153.12 296.76 L154.11 295.79 L155.10 294.83 L156.09 293.89 L157.09 292.97 L158.08 292.06 L159.07 291.16 L160.06 290.28 L161.05 289.42 L162.05 288.56 L163.04 287.72 L164.03 286.89 L165.02 286.08 L166.01 285.27 L167.01 284.48 L168.00 283.70 L168.99 282.93 L169.98 282.17 L170.97 281.43 L171.97 280.69 L172.96 279.96 L173.95 279.25 L174.94 278.54 L175.93 277.84 L176.93 277.15 L177.92 276.47 L178.91 275.80 L179.90 275.14 L180.89 274.49 L181.89 273.84 L182.88 273.21 L183.87 272.58 L184.86 271.96 L185.85 271.34 L186.85 270.74 L187.84 270.14 L188.83 269.55 L189.82 268.96 L190.81 268.39 L191.81 267.81 L192.80 267.25 L193.79 266.69 L194.78 266.14 L195.77 265.60 L196.77 265.06 L197.76 264.52 L198.75 264.00 L199.74 263.47 L200.73 262.96 L201.73 262.45 L202.72 261.94 L203.71 261.44 L204.70 260.95 L205.69 260.46 L206.69 259.97 L207.68 259.50 L208.67 259.02 L209.66 258.55 L210.65 258.09 L211.65 257.63 L212.64 257.17 L213.63 256.72 L214.62 256.27 L215.61 255.83 L216.61 255.39 L217.60 254.96 L218.59 254.53 L219.58 254.10 L220.57 253.68 L221.57 253.26 L222.56 252.84 L223.55 252.43 L224.54 252.03 L225.53 251.62 L226.53 251.22 L227.52 250.82 L228.51 250.43 L229.50 250.04 L230.49 249.65 L231.48 249.27 L232.48 248.89 L233.47 248.51 L234.46 248.13 L235.45 247.76 L236.44 247.39 L237.44 247.03 L238.43 246.66 L239.42 246.30 L240.41 245.94 L241.40 245.59 L242.40 245.23 L243.39 244.88 L244.38 244.53 L245.37 244.19 L246.36 243.84 L247.36 243.50 L248.35 243.16 L249.34 242.83 L250.33 242.49 L251.32 242.16 L252.32 241.83 L253.31 241.50 L254.30 241.18 L255.29 240.85 L256.28 240.53 L257.28 240.21 L258.27 239.89 L259.26 239.57 L260.25 239.26 L261.24 238.95 L262.24 238.63 L263.23 238.32 L264.22 238.02 L265.21 237.71 L266.20 237.41 L267.20 237.10 L268.19 236.80 L269.18 236.50 L270.17 236.20 L271.16 235.91 L272.16 235.61 L273.15 235.32 L274.14 235.03 L275.13 234.74 L276.12 234.45 L277.12 234.16 L278.11 233.87 L279.10 233.59 L280.09 233.30 L281.08 233.02 L282.08 232.74 L283.07 232.46 L284.06 232.18 L285.05 231.90 L286.04 231.62 L287.04 231.35 L288.03 231.07 L289.02 230.80 L290.01 230.53 L291.00 230.26 L292.00 229.99 L292.99 229.72 L293.98 229.45 L294.97 229.18 L295.96 228.92 L296.96 228.65 L297.95 228.39 L298.94 228.13 L299.93 227.87 L300.92 227.60 L301.92 227.34 L302.91 227.09 L303.90 226.83 L304.89 226.57 L305.88 226.31 L306.87 226.06 L307.87 225.80 L308.86 225.55 L309.85 225.30 L310.84 225.04 L311.83 224.79 L312.83 224.54 L313.82 224.29 L314.81 224.04 L315.80 223.79 L316.79 223.54 L317.79 223.30 L318.78 223.05 L319.77 222.81 L320.76 222.56 L321.75 222.32 L322.75 222.07 L323.74 221.83 L324.73 221.59 L325.72 221.35 L326.71 221.10 L327.71 220.86 L328.70 220.62 L329.69 220.38 L330.68 220.15 L331.67 219.91 L332.67 219.67 L333.66 219.43 L334.65 219.20 L335.64 218.96 L336.63 218.73 L337.63 218.49 L338.62 218.26 L339.61 218.02 L340.60 217.79 L341.59 217.56 L342.59 217.33 L343.58 217.10 L344.57 216.86 L345.56 216.63 L346.55 216.40 L347.55 216.17 L348.54 215.95 L349.53 215.72 L350.52 215.49 L351.51 215.26 L352.51 215.03 L353.50 214.81 L354.49 214.58 L355.48 214.35 L356.47 214.13 L357.47 213.90 L358.46 213.68 L359.45 213.45 L360.44 213.23 L361.43 213.01 L362.43 212.78 L363.42 212.56 L364.41 212.34 L365.40 212.12 L366.39 211.89 L367.39 211.67 L368.38 211.45 L369.37 211.23 L370.36 211.01 L371.35 210.79 L372.35 210.57 L373.34 210.35 L374.33 210.13 L375.32 209.91 L376.31 209.70 L377.31 209.48 L378.30 209.26 L379.29 209.04 L380.28 208.83 L381.27 208.61 L382.26 208.39 L383.26 208.18 L384.25 207.96 L385.24 207.75 L386.23 207.53 L387.22 207.32 L388.22 207.10 L389.21 206.89 L390.20 206.67 L391.19 206.46 L392.18 206.25 L393.18 206.03 L394.17 205.82 L395.16 205.61 L396.15 205.39 L397.14 205.18 L398.14 204.97 L399.13 204.76 L400.12 204.55 L401.11 204.33 L402.10 204.12 L403.10 203.91 L404.09 203.70 L405.08 203.49 L406.07 203.28 L407.06 203.07 L408.06 202.86 L409.05 202.65 L410.04 202.44 L411.03 202.23 L412.02 202.03 L413.02 201.82 L414.01 201.61 L415.00 201.40 L424.80 200.10 L433.70 198.90 L435.30 198.90 L439.60 199.85 L443.00 200.80 L444.80 200.80 L448.30 200.35 L452.60 199.90 L458.40 199.70 L467.80 199.95 L482.30 200.50 L496.70 201.00 L511.20 201.25 L518.70 201.25" stroke="#000" stroke-linejoin="round"/>
</g>
<g fill="none" stroke="#444" stroke-width="0.85">
<rect x="84.0" y="38.0" width="709.5" height="438.5"/>
<path d="M84.00 38.00 v8.20 M107.65 476.50 v-5.20 M107.65 38.00 v5.20 M131.30 476.50 v-5.20 M131.30 38.00 v5.20 M154.95 476.50 v-5.20 M154.95 38.00 v5.20 M178.60 476.50 v-8.20 M178.60 38.00 v8.20 M202.25 476.50 v-5.20 M202.25 38.00 v5.20 M225.90 476.50 v-5.20 M225.90 38.00 v5.20 M249.55 476.50 v-5.20 M249.55 38.00 v5.20 M273.20 476.50 v-8.20 M273.20 38.00 v8.20 M296.85 476.50 v-5.20 M296.85 38.00 v5.20 M320.50 476.50 v-5.20 M320.50 38.00 v5.20 M344.15 476.50 v-5.20 M344.15 38.00 v5.20 M367.80 476.50 v-8.20 M367.80 38.00 v8.20 M391.45 476.50 v-5.20 M391.45 38.00 v5.20 M415.10 476.50 v-5.20 M415.10 38.00 v5.20 M438.75 476.50 v-5.20 M438.75 38.00 v5.20 M462.40 476.50 v-8.20 M462.40 38.00 v8.20 M486.05 476.50 v-5.20 M486.05 38.00 v5.20 M509.70 476.50 v-5.20 M509.70 38.00 v5.20 M533.35 476.50 v-5.20 M533.35 38.00 v5.20 M557.00 476.50 v-8.20 M557.00 38.00 v8.20 M580.65 476.50 v-5.20 M580.65 38.00 v5.20 M604.30 476.50 v-5.20 M604.30 38.00 v5.20 M627.95 476.50 v-5.20 M627.95 38.00 v5.20 M651.60 476.50 v-8.20 M651.60 38.00 v8.20 M675.25 476.50 v-5.20 M675.25 38.00 v5.20 M698.90 476.50 v-5.20 M698.90 38.00 v5.20 M722.55 476.50 v-5.20 M722.55 38.00 v5.20 M746.20 476.50 v-8.20 M746.20 38.00 v8.20 M769.85 476.50 v-5.20 M769.85 38.00 v5.20 M793.50 476.50 v-5.20 M793.50 38.00 v5.20 M84.00 476.50 h8.20 M793.50 476.50 h-8.20 M84.00 458.96 h5.20 M793.50 458.96 h-5.20 M84.00 441.42 h5.20 M793.50 441.42 h-5.20 M84.00 423.88 h5.20 M793.50 423.88 h-5.20 M84.00 406.34 h5.20 M793.50 406.34 h-5.20 M84.00 388.80 h8.20 M793.50 388.80 h-8.20 M84.00 371.26 h5.20 M793.50 371.26 h-5.20 M84.00 353.72 h5.20 M793.50 353.72 h-5.20 M84.00 336.18 h5.20 M793.50 336.18 h-5.20 M84.00 318.64 h5.20 M793.50 318.64 h-5.20 M84.00 301.10 h8.20 M793.50 301.10 h-8.20 M84.00 283.56 h5.20 M793.50 283.56 h-5.20 M84.00 266.02 h5.20 M793.50 266.02 h-5.20 M84.00 248.48 h5.20 M793.50 248.48 h-5.20 M84.00 230.94 h5.20 M793.50 230.94 h-5.20 M84.00 213.40 h8.20 M793.50 213.40 h-8.20 M84.00 195.86 h5.20 M793.50 195.86 h-5.20 M84.00 178.32 h5.20 M793.50 178.32 h-5.20 M84.00 160.78 h5.20 M793.50 160.78 h-5.20 M84.00 143.24 h5.20 M793.50 143.24 h-5.20 M84.00 125.70 h8.20 M793.50 125.70 h-8.20 M84.00 108.16 h5.20 M793.50 108.16 h-5.20 M84.00 90.62 h5.20 M793.50 90.62 h-5.20 M84.00 73.08 h5.20 M793.50 73.08 h-5.20 M84.00 55.54 h5.20 M793.50 55.54 h-5.20 M84.00 38.00 h8.20 M793.50 38.00 h-8.20"/>
</g>
<g><text x="84.00" y="501.5" text-anchor="middle">0.0</text><text x="178.60" y="501.5" text-anchor="middle">0.2</text><text x="273.20" y="501.5" text-anchor="middle">0.4</text><text x="367.80" y="501.5" text-anchor="middle">0.6</text><text x="462.40" y="501.5" text-anchor="middle">0.8</text><text x="557.00" y="501.5" text-anchor="middle">1.0</text><text x="651.60" y="501.5" text-anchor="middle">1.2</text><text x="746.20" y="501.5" text-anchor="middle">1.4</text><text x="77.0" y="483.20" text-anchor="end" textLength="35.6" lengthAdjust="spacing">13.0</text><text x="77.0" y="395.50" text-anchor="end" textLength="35.6" lengthAdjust="spacing">13.5</text><text x="77.0" y="307.80" text-anchor="end" textLength="35.6" lengthAdjust="spacing">14.0</text><text x="77.0" y="220.10" text-anchor="end" textLength="35.6" lengthAdjust="spacing">14.5</text><text x="77.0" y="132.40" text-anchor="end" textLength="35.6" lengthAdjust="spacing">15.0</text><text x="77.0" y="44.70" text-anchor="end" textLength="35.6" lengthAdjust="spacing">15.5</text></g>
<!-- legend -->
<g fill="none" stroke-width="4.7">
<path d="M128.9 90.5 H252" stroke="#0000ff"/>
<path d="M128.9 125.6 H252" stroke="#ff0000" stroke-dasharray="14 4.4"/>
<path d="M128.9 160.7 H252" stroke="#000"/>
</g>
<text x="272.6" y="97.7">Polytrope, n <tspan dx="0.8" textLength="13.4" lengthAdjust="spacingAndGlyphs">=</tspan><tspan dx="-0.5"> 3</tspan><tspan dx="1">/</tspan><tspan dx="1">2</tspan></text>
<text x="272.6" y="132.8">Polytrope, n <tspan dx="0.8" textLength="13.4" lengthAdjust="spacingAndGlyphs">=</tspan><tspan dx="-0.5"> 3</tspan></text>
<text x="272.6" y="167.8">Numerical</text>
<text x="726.4" y="91" style="font-size:35.4px">(a)</text>
<!-- axis titles -->
<text x="411" y="539.0">M</text><text x="435.3" y="539.0" font-style="italic">M</text>
<path d="M435.8 524.6 L430.1 542.0" stroke="#000" stroke-width="1.15" fill="none"/>
<g fill="none" stroke="#000" stroke-width="0.9"><circle cx="459.2" cy="544.2" r="4.6"/></g>
<circle cx="459.2" cy="544.2" r="1" fill="#000"/>
<g transform="translate(22.4 318.9) rotate(-90)">
<text x="0" y="0">log</text>
<text transform="translate(32.0 0) scale(0.9 1)" font-style="italic">ψ</text>
<text x="49.2" y="0">[erg</text>
<text transform="translate(87.6 0) skewX(-14)">g</text>
<text x="99.0" y="-8.9" style="font-size:15px">−</text>
<text x="109.3" y="-8.9" style="font-size:15px">1</text>
<text x="115.8" y="0">]</text>
</g>
</svg>
</body></html>
